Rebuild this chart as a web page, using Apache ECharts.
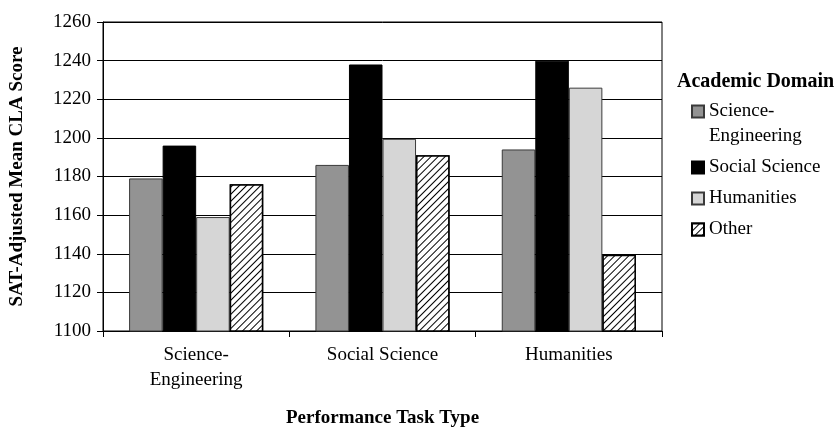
<!DOCTYPE html>
<html>
<head>
<meta charset="utf-8">
<script src="https://cdn.jsdelivr.net/npm/echarts@6/dist/echarts.min.js"></script>
<style>
  html, body { margin: 0; padding: 0; background: #fff; }
  #chart { width: 840px; height: 433px; }
</style>
</head>
<body>
<div id="chart"></div>
<script>
// Performance task types along the x axis
const taskTypes = ['Science-Engineering', 'Social Science', 'Humanities'];

// Academic domains (one bar series each)
const domains = ['Science-Engineering', 'Social Science', 'Humanities', 'Other'];

// SAT-adjusted mean CLA scores, one array per academic domain
const scienceEngineering = [1179, 1186, 1194];
const socialScience = [1196, 1238, 1240];
const humanities = [1159, 1199.5, 1226];
const other = [1176, 1191, 1139.5];

// Value axis ticks
const yMin = 1100;
const yMax = 1260;
const yStep = 20;

const seriesValues = [scienceEngineering, socialScience, humanities, other];

const serif = '"Liberation Serif", "DejaVu Serif", serif';

// Thin diagonal hatching for the "Other" bars
const hatch = {
  symbol: 'rect',
  symbolSize: 1,
  dashArrayX: [1, 0],
  dashArrayY: [0.8, 4],
  rotation: -Math.PI / 4,
  color: '#000',
  backgroundColor: '#fff'
};

const styles = [
  { color: '#939393', borderColor: '#3a3a3a', borderWidth: 1 },
  { color: '#000000', borderColor: '#000000', borderWidth: 1 },
  { color: '#d6d6d6', borderColor: '#3a3a3a', borderWidth: 1 },
  { color: '#ffffff', borderColor: '#000000', borderWidth: 1.5, decal: hatch }
];

const splitName = s => s.replace('-', '-\n');

// A blank first line keeps the swatch of a two-line entry beside its first line
const legendName = s => (s.indexOf('-') >= 0 ? '\n' + splitName(s) : s);

const chart = echarts.init(document.getElementById('chart'), null, { renderer: 'canvas' });

chart.setOption({
  animation: false,
  backgroundColor: '#fff',
  title: {
    text: 'Academic Domain',
    left: 672,
    top: 67,
    textStyle: { fontFamily: serif, fontSize: 20, fontWeight: 'bold', color: '#000' }
  },
  legend: {
    orient: 'vertical',
    left: 686,
    top: 69,
    itemWidth: 12,
    itemHeight: 12,
    itemGap: 6,
    icon: 'rect',
    data: domains,
    formatter: legendName,
    textStyle: { fontFamily: serif, fontSize: 19, lineHeight: 25, color: '#000' }
  },
  grid: {
    left: 93,
    right: 178,
    top: 22,
    bottom: 90,
    show: true,
    borderColor: '#000',
    borderWidth: 1
  },
  xAxis: {
    type: 'category',
    data: taskTypes,
    name: 'Performance Task Type',
    nameLocation: 'middle',
    nameGap: 78,
    nameTextStyle: { fontFamily: serif, fontSize: 19, fontWeight: 'bold', color: '#000' },
    axisLine: { lineStyle: { color: '#000', width: 1 } },
    axisTick: { show: true, length: 6, lineStyle: { color: '#000' } },
    axisLabel: {
      fontFamily: serif,
      fontSize: 19,
      lineHeight: 25,
      color: '#000',
      margin: 12,
      formatter: splitName
    }
  },
  yAxis: {
    type: 'value',
    min: yMin,
    max: yMax,
    interval: yStep,
    name: 'SAT-Adjusted Mean CLA Score',
    nameLocation: 'middle',
    nameGap: 76,
    nameRotate: 90,
    nameTextStyle: { fontFamily: serif, fontSize: 19, fontWeight: 'bold', color: '#000' },
    axisLine: { show: true, lineStyle: { color: '#000', width: 1 } },
    axisTick: { show: true, length: 6, lineStyle: { color: '#000' } },
    axisLabel: { fontFamily: serif, fontSize: 19, color: '#000', margin: 12, formatter: v => String(v) },
    splitLine: { show: true, lineStyle: { color: '#000', width: 1 } }
  },
  series: domains.map((name, i) => ({
    name: name,
    type: 'bar',
    data: seriesValues[i],
    barGap: '0%',
    barCategoryGap: '28%',
    itemStyle: styles[i]
  }))
});
</script>
</body>
</html>
